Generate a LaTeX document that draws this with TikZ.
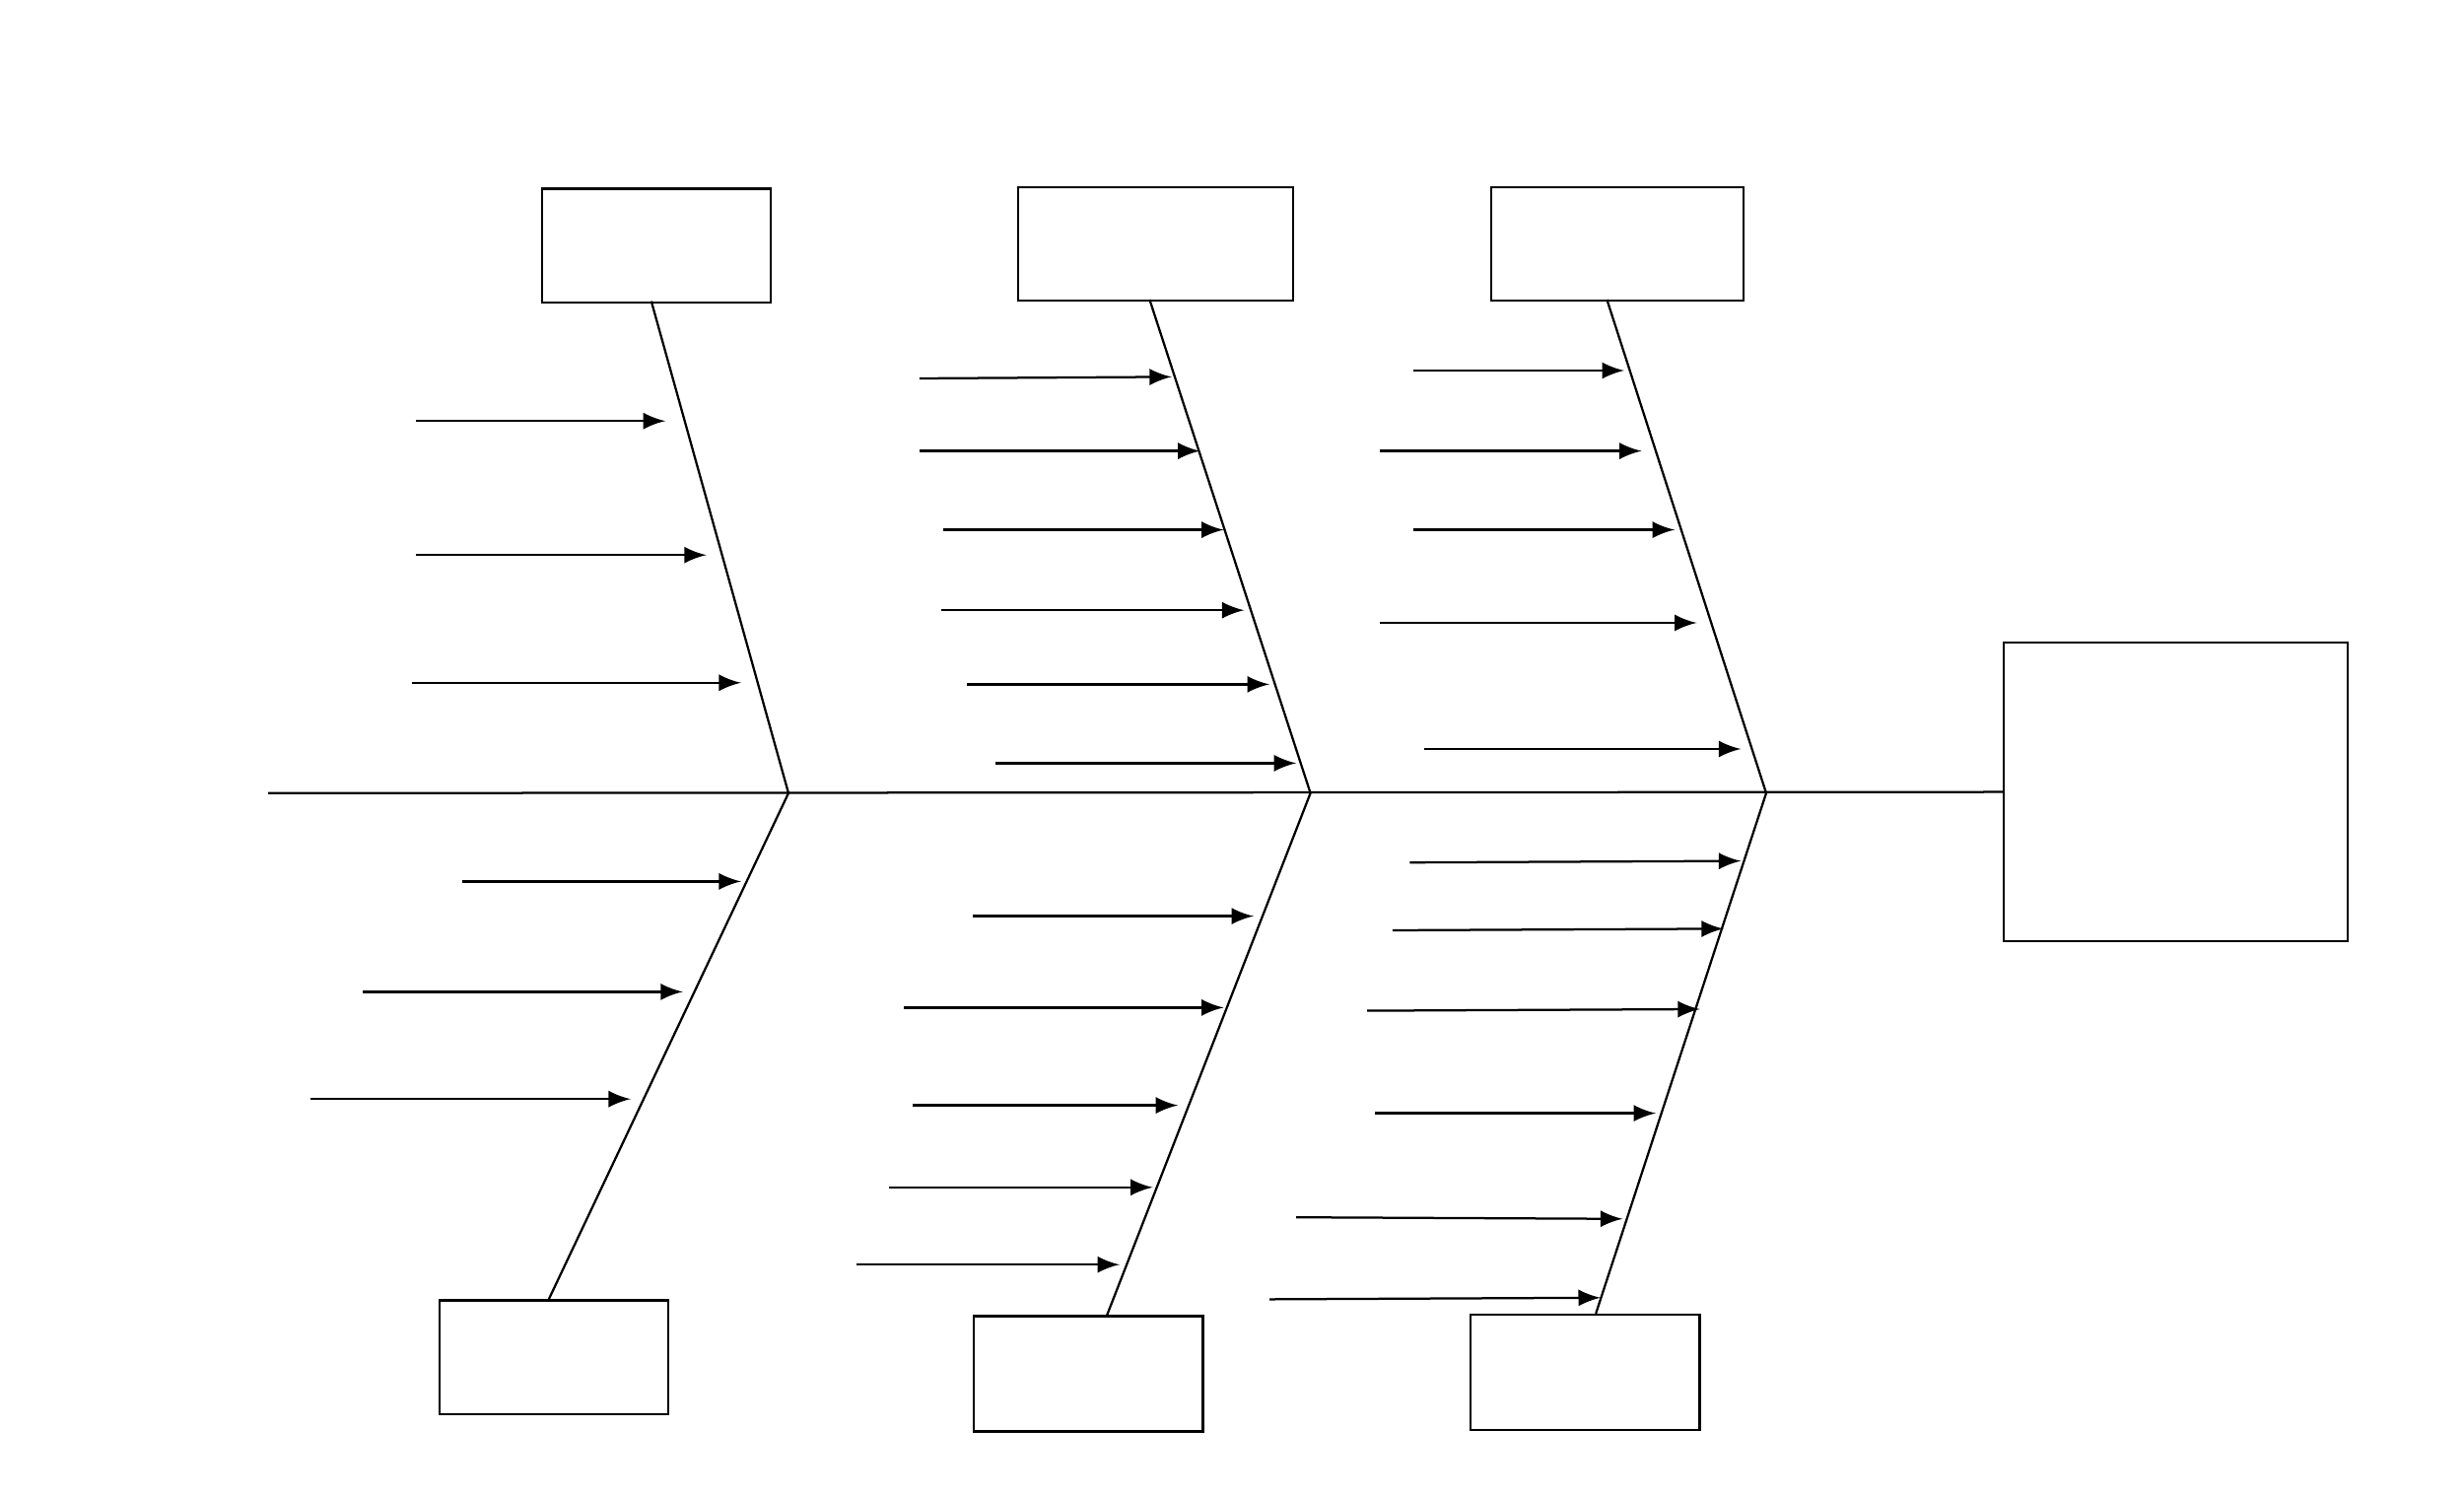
\documentclass[tikz,border=0pt]{standalone}
\usetikzlibrary{arrows}
\begin{document}
\begin{tikzpicture}[x=0.01cm,y=-0.01cm]
\tikzset{box/.style={draw,thin,inner sep=0pt,anchor=north west},
bone/.style={draw,thin},
cause/.style={draw,thin,-latex}}
\useasboundingbox (0,0) rectangle (1562.5,948.75);

% head and spine
\node[box,minimum width=2.18cm,minimum height=1.89cm] (h) at (1270,407) {};
\coordinate (s0) at (170,503);
\draw[bone] (s0) -- (h.west);

% category boxes
\node[box,minimum width=1.45cm,minimum height=0.72cm] (t1) at (343,119) {};
\node[box,minimum width=1.74cm,minimum height=0.72cm] (t2) at (645,118) {};
\node[box,minimum width=1.60cm,minimum height=0.72cm] (t3) at (945,118) {};
\node[box,minimum width=1.45cm,minimum height=0.72cm] (b1) at (278,824) {};
\node[box,minimum width=1.45cm,minimum height=0.73cm] (b2) at (617,834) {};
\node[box,minimum width=1.45cm,minimum height=0.73cm] (b3) at (932,833) {};

% bones
\coordinate (j1) at (500,503);
\coordinate (j2) at (831,503);
\coordinate (j3) at (1120,503);
\coordinate (u1) at (413,191);
\coordinate (u2) at (729,190);
\coordinate (u3) at (1019,190);
\coordinate (d1) at (348,824);
\coordinate (d2) at (702,834);
\coordinate (d3) at (1012,833);
\draw[bone] (u1) -- (j1);
\draw[bone] (u2) -- (j2);
\draw[bone] (u3) -- (j3);
\draw[bone] (j1) -- (d1);
\draw[bone] (j2) -- (d2);
\draw[bone] (j3) -- (d3);

% causes
\foreach \i/\xa/\ya/\xb/\yb in {
1/264/267/422/267, 2/264/352/448/352, 3/261/433/470/433,
4/583/240/743/239, 5/583/286/761/286, 6/598/336/776/336,
7/597/387/789/387, 8/613/434/805/434, 9/631/484/822/484,
10/896/235/1030/235, 11/875/286/1041/286, 12/896/336/1062/336,
13/875/395/1076/395, 14/903/475/1104/475,
15/293/559/470/559, 16/230/629/433/629, 17/197/697/400/697,
18/617/581/795/581, 19/573/639/776/639, 20/579/701/747/701,
21/564/753/731/753, 22/543/802/710/802,
23/894/547/1104/546, 24/883/590/1093/589, 25/867/641/1078/640,
26/872/706/1050/706, 27/822/772/1029/773, 28/805/824/1015/823}{
\coordinate (c\i a) at (\xa,\ya);
\coordinate (c\i b) at (\xb,\yb);
\draw[cause] (c\i a) -- (c\i b);
}
\end{tikzpicture}
\end{document}
